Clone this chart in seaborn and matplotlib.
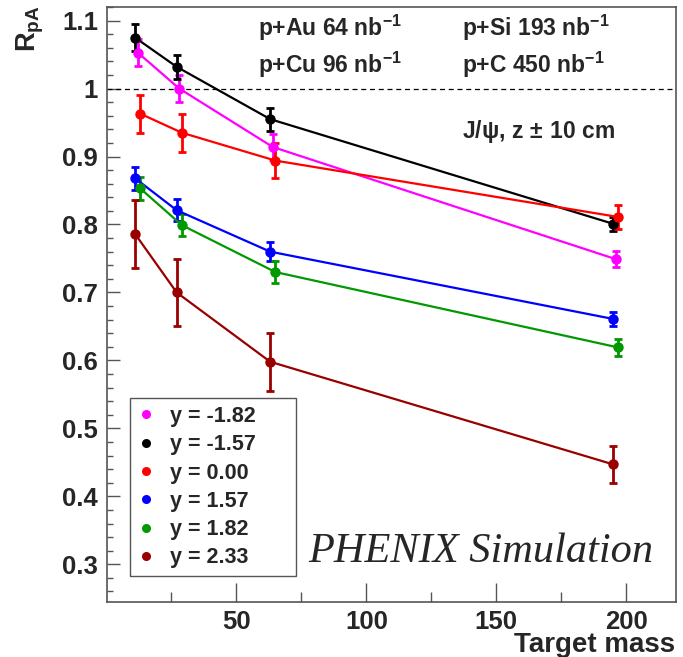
import matplotlib
matplotlib.use("Agg")
import matplotlib.pyplot as plt
from matplotlib.lines import Line2D
from matplotlib.ticker import FixedLocator, MultipleLocator, FuncFormatter
import numpy as np
import pandas as pd
import seaborn as sns

# Target nuclei: C, Si, Cu, Au
target_mass = [12, 28, 64, 196]

rapidity = ["-1.82", "-1.57", "0.00", "1.57", "1.82", "2.33"]
series_labels = ["y = " + r for r in rapidity]

rpa_m182 = [1.053, 1.000, 0.914, 0.749]
err_m182 = [0.020, 0.020, 0.019, 0.012]
rpa_m157 = [1.075, 1.032, 0.955, 0.801]
err_m157 = [0.020, 0.018, 0.017, 0.010]
rpa_p000 = [0.963, 0.935, 0.894, 0.811]
err_p000 = [0.028, 0.028, 0.026, 0.018]
rpa_p157 = [0.868, 0.821, 0.760, 0.661]
err_p157 = [0.017, 0.016, 0.014, 0.010]
rpa_p182 = [0.853, 0.799, 0.730, 0.619]
err_p182 = [0.017, 0.016, 0.016, 0.012]
rpa_p233 = [0.786, 0.700, 0.598, 0.447]
err_p233 = [0.050, 0.049, 0.043, 0.027]

rpa_values = [rpa_m182, rpa_m157, rpa_p000, rpa_p157, rpa_p182, rpa_p233]
rpa_errors = [err_m182, err_m157, err_p000, err_p157, err_p182, err_p233]

# small horizontal displacement so overlapping points stay visible
x_shift = [0.0, -1.0, 1.0, -1.0, 1.0, -1.0]

colors = ["#ff00ff", "#000000", "#ff0000", "#0000ff", "#009900", "#990000"]

rows = []
for lab, vals, errs, dx in zip(series_labels, rpa_values, rpa_errors, x_shift):
    for m, v, e in zip(target_mass, vals, errs):
        rows.append({"series": lab, "mass": m + dx, "rpa": v, "err": e})
df = pd.DataFrame(rows)

sns.set_style("ticks")
plt.rcParams["font.family"] = ["Liberation Sans", "DejaVu Sans"]
plt.rcParams["font.weight"] = "bold"
plt.rcParams["mathtext.fontset"] = "custom"
plt.rcParams["mathtext.rm"] = "Liberation Sans:bold"
plt.rcParams["mathtext.bf"] = "Liberation Sans:bold"
plt.rcParams["mathtext.it"] = "Liberation Sans:bold"

W, H = 683, 657
fig = plt.figure(figsize=(W / 100, H / 100), dpi=100)
ax_l, ax_r, ax_t, ax_b = 106.5, 675.5, 7, 602
ax = fig.add_axes([ax_l / W, 1 - ax_b / H, (ax_r - ax_l) / W, (ax_b - ax_t) / H])

palette = dict(zip(series_labels, colors))
sns.lineplot(data=df, x="mass", y="rpa", hue="series", palette=palette,
             estimator=None, sort=True, marker="o", markersize=7.5,
             markeredgewidth=0, linewidth=1.6, legend=False, ax=ax, zorder=3)

for lab, col in zip(series_labels, colors):
    sub = df[df["series"] == lab]
    ax.errorbar(sub["mass"], sub["rpa"], yerr=sub["err"], fmt="none",
                ecolor=col, elinewidth=2.0, capsize=3.0, capthick=2.0, zorder=2)

ax.axhline(1.0, color="black", linestyle=(0, (4, 3)), linewidth=0.9, zorder=1)

ax.set_xlim(0, 219)
ax.set_ylim(0.2445, 1.120)
ax.xaxis.set_major_locator(FixedLocator([50, 100, 150, 200]))
ax.xaxis.set_minor_locator(FixedLocator([25, 75, 125, 175]))
ax.yaxis.set_major_locator(MultipleLocator(0.1))
ax.yaxis.set_minor_locator(MultipleLocator(0.02))
ax.yaxis.set_major_formatter(FuncFormatter(lambda v, p: f"{v:g}"))

spine_col = "#555555"
for s in ax.spines.values():
    s.set_color(spine_col)
    s.set_linewidth(1.2)
ax.tick_params(axis="both", which="both", direction="in", color=spine_col,
               width=1.0, labelsize=18.5, pad=6)
ax.tick_params(axis="x", which="major", length=14)
ax.tick_params(axis="x", which="minor", length=7.5)
ax.tick_params(axis="y", which="major", length=9)
ax.tick_params(axis="y", which="minor", length=4.5)
for lbl in ax.get_xticklabels() + ax.get_yticklabels():
    lbl.set_fontweight("bold")

ax.set_xlabel("")
ax.set_ylabel("")
fig.text(ax_r / W, 1 - 652 / H, "Target mass", ha="right", va="baseline",
         fontsize=20, fontweight="bold")
fig.text(46 / W, 1 - 5 / H, r"R$_{\mathregular{pA}}$", rotation=90, ha="right",
         va="top", fontsize=19.5, fontweight="bold")


def ax_frac(px, py):
    return (px - ax_l) / (ax_r - ax_l), (ax_b - py) / (ax_b - ax_t)


info = [
    (258, 36, r"p+Au 64 nb$^{-1}$"),
    (462, 36, r"p+Si 193 nb$^{-1}$"),
    (258, 73, r"p+Cu 96 nb$^{-1}$"),
    (462, 73, r"p+C 450 nb$^{-1}$"),
    (462, 138, r"J/ψ, z$\,\pm\,$10 cm"),
]
for px, py, txt in info:
    fx, fy = ax_frac(px, py)
    ax.text(fx, fy, txt, transform=ax.transAxes, ha="left", va="baseline",
            fontsize=16.5, fontweight="bold")

fx, fy = ax_frac(481, 552)
ax.text(fx, fy, "PHENIX Simulation", transform=ax.transAxes, ha="center",
        va="center", fontsize=30.5, fontstyle="italic",
        fontfamily="Liberation Serif", fontweight="normal")

handles = [Line2D([], [], linestyle="none", marker="o", markersize=6.5,
                  markeredgewidth=0, color=c) for c in colors]
lx0, ly0 = ax_frac(130, 576)
lx1, ly1 = ax_frac(296, 398)
leg = ax.legend(handles, series_labels, loc="lower left",
                bbox_to_anchor=(lx0, ly0, lx1 - lx0, ly1 - ly0), mode="expand",
                borderaxespad=0, prop={"size": 15.5, "weight": "bold"},
                frameon=True, fancybox=False, framealpha=1,
                edgecolor="#555555", handlelength=0.8, handletextpad=0.7,
                labelspacing=0.34, borderpad=0.35)
leg.get_frame().set_linewidth(1.0)
leg.set_zorder(5)

fig.savefig("out.png", dpi=100)
